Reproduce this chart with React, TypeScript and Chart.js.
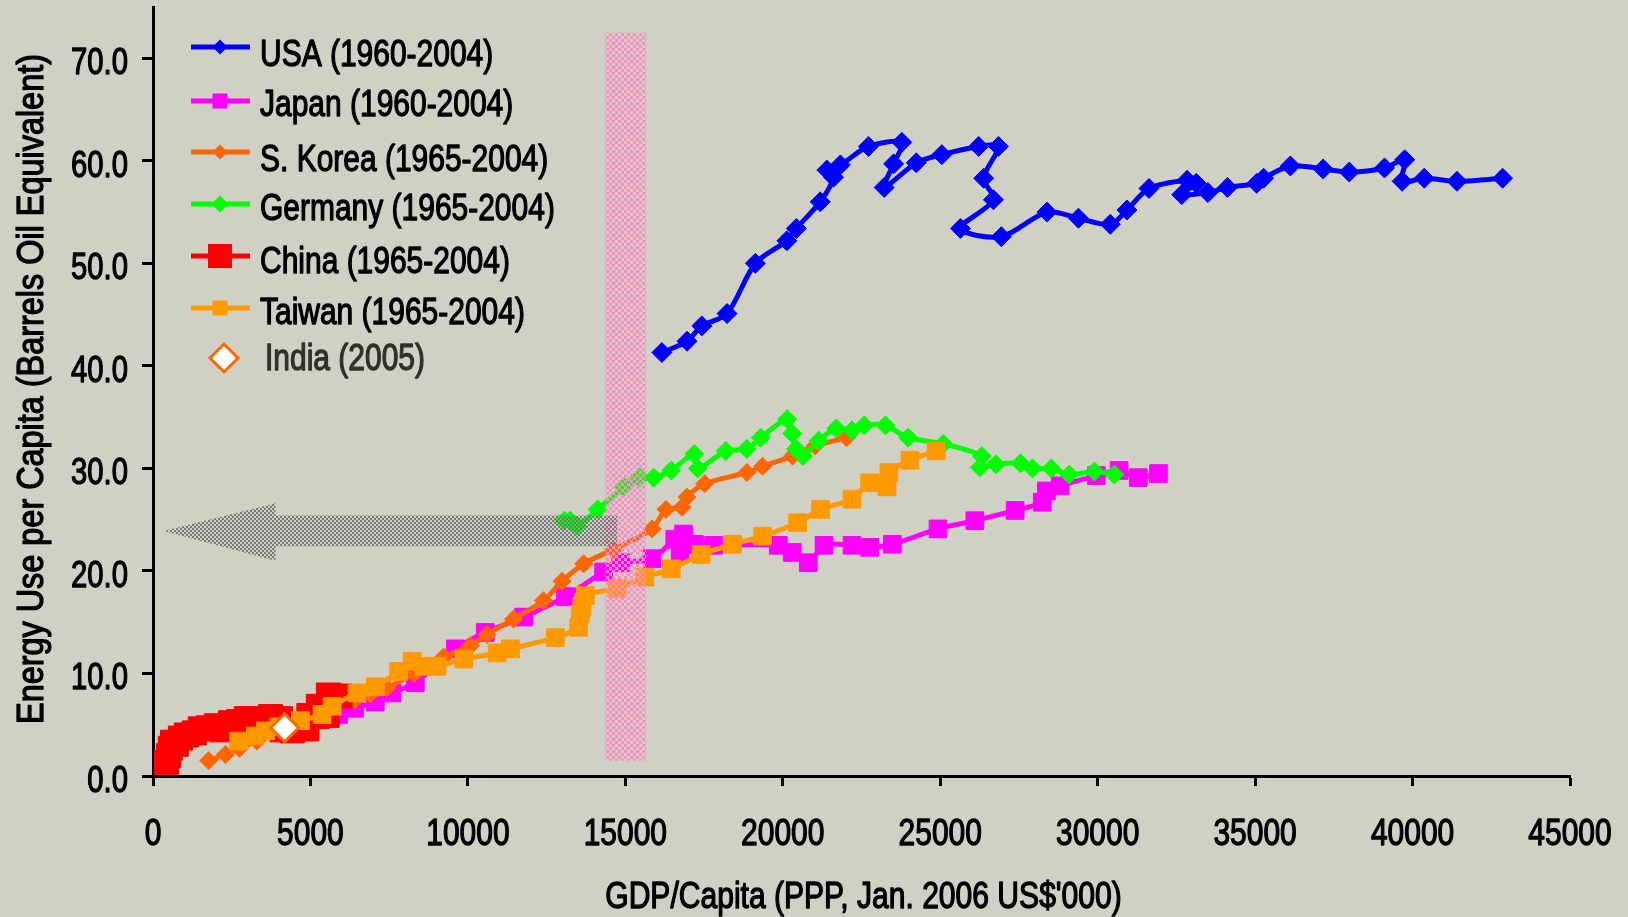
import React, { useEffect, useRef } from 'react';
import { Chart, registerables } from 'chart.js';

Chart.register(...registerables);

const FONT = "'Liberation Sans', Arial, sans-serif";
const BG = 'rgb(209,208,197)';

// ---- data (GDP/capita, energy use per capita) ----
const usaGdp = [16160, 16960, 17430, 18230, 19130, 20130, 20430, 21190, 21610, 21400, 21830, 22720, 23780, 23520, 23220, 24240, 25050, 26220, 26850, 26380, 26690, 25640, 26940, 28390, 29390, 30400, 30930, 31630, 32840, 33130, 32670, 33500, 34120, 35050, 35270, 36120, 37160, 37990, 39110, 39750, 39670, 40370, 41410, 42860];
const usaEnergy = [41.3, 42.4, 43.9, 45.1, 50.0, 52.2, 53.4, 56.0, 58.4, 59.1, 59.6, 61.4, 61.8, 59.7, 57.4, 59.8, 60.6, 61.4, 61.4, 58.3, 56.2, 53.4, 52.6, 55.0, 54.4, 53.8, 55.2, 57.3, 58.1, 57.8, 56.7, 56.9, 57.4, 57.8, 58.3, 59.5, 59.2, 58.9, 59.3, 60.1, 58.0, 58.3, 58.0, 58.3];

const japanGdp = [5900, 6400, 7060, 7590, 8330, 9600, 10550, 11770, 13090, 14310, 14850, 15850, 16570, 16850, 16740, 17190, 17800, 19860, 20300, 20810, 21310, 22200, 22760, 23480, 24930, 26100, 27380, 28240, 28370, 28810, 29960, 30680, 31290, 31930];
const japanEnergy = [6.0, 6.6, 7.2, 8.1, 9.1, 12.4, 14.0, 15.5, 17.5, 19.9, 20.8, 21.2, 23.1, 23.6, 21.8, 22.6, 22.5, 22.5, 21.8, 20.8, 22.5, 22.5, 22.3, 22.6, 24.1, 24.9, 25.9, 26.7, 27.8, 28.3, 29.3, 29.8, 29.1, 29.5];

const koreaGdp = [1770, 2300, 2750, 3300, 3900, 4500, 5100, 5700, 6400, 6900, 7430, 8300, 9230, 10080, 10610, 11450, 12400, 12990, 13680, 14620, 15850, 16290, 16800, 16960, 17520, 18860, 19360, 20310, 21030, 22030];
const koreaEnergy = [1.5, 2.1, 2.7, 3.4, 4.2, 5.0, 5.8, 6.6, 7.4, 8.0, 8.6, 10.0, 11.6, 12.7, 13.8, 15.3, 17.1, 19.0, 20.7, 22.1, 24.1, 26.0, 26.2, 27.2, 28.5, 29.6, 30.2, 31.2, 32.2, 33.0];

const germanyGdp = [13060, 13250, 13470, 14120, 14960, 15460, 15900, 16460, 17190, 17300, 18190, 18860, 19300, 20140, 20300, 20420, 20640, 21140, 21700, 22200, 22590, 23260, 23980, 25100, 26320, 26260, 26770, 27550, 27930, 28530, 29100, 29900, 30530];
const germanyEnergy = [24.9, 24.9, 24.4, 26.0, 28.2, 29.1, 29.1, 29.8, 31.4, 30.0, 31.7, 31.9, 33.0, 34.8, 33.4, 31.9, 31.2, 32.7, 33.9, 33.7, 34.2, 34.2, 33.0, 32.4, 31.2, 30.1, 30.4, 30.5, 30.0, 30.0, 29.4, 29.7, 29.4];

const chinaGdp = [425, 490, 550, 620, 740, 870, 1060, 1310, 1500, 1760, 2010, 2200, 2460, 2710, 2960, 3220, 3470, 3730, 4050, 4100, 4430, 4700, 4890, 4950, 5210, 5250, 5530, 5570, 5940];
const chinaEnergy = [1.3, 2.0, 2.7, 3.3, 3.1, 3.7, 4.0, 4.2, 4.6, 4.7, 4.9, 4.5, 5.2, 5.3, 5.6, 5.6, 5.6, 5.8, 5.6, 4.5, 4.4, 4.6, 4.6, 5.9, 5.8, 6.8, 5.9, 7.9, 7.8];

const taiwanGdp = [2720, 3250, 3570, 4000, 4680, 5370, 5690, 6480, 7060, 7800, 8230, 8600, 9020, 9870, 10930, 11350, 12780, 13520, 13570, 13620, 13730, 14740, 15620, 16460, 17410, 18410, 19360, 20470, 21200, 22200, 22760, 23310, 23370, 24040, 24870];
const taiwanEnergy = [3.4, 3.9, 4.4, 4.8, 5.4, 6.0, 6.8, 8.1, 8.7, 10.2, 11.2, 10.7, 10.7, 11.4, 12.0, 12.4, 13.5, 14.5, 15.8, 16.5, 17.6, 18.3, 19.4, 20.2, 21.6, 22.6, 23.4, 24.7, 26.0, 27.0, 28.6, 28.2, 29.6, 30.8, 31.7];

const indiaGdp = [4180];
const indiaEnergy = [4.7];

const seriesLabels = ['USA (1960-2004)', 'Japan (1960-2004)', 'S. Korea (1965-2004)', 'Germany (1965-2004)', 'China (1965-2004)', 'Taiwan (1965-2004)', 'India (2005)'];
const xTitle = "GDP/Capita (PPP, Jan. 2006 US$'000)";
const yTitle = 'Energy Use per Capita (Barrels Oil Equivalent)';

// annotations (data units)
const bandX = [14360, 15660];
const bandY = [1.5, 72.5];
const arrowTip = [340, 23.9];
const arrowHeadX = 3890;
const arrowHeadY = [26.6, 21.0];
const arrowShaftY = [25.4, 22.4];
const arrowEndX = 14740;

const xTicks = [0, 5000, 10000, 15000, 20000, 25000, 30000, 35000, 40000, 45000];
const yTicks = [0, 10, 20, 30, 40, 50, 60, 70];

const pts = (xs: number[], ys: number[]) => xs.map((x, i) => ({ x, y: ys[i] }));

function checker(color: string, cell: number) {
  const c = document.createElement('canvas');
  c.width = cell * 2;
  c.height = cell * 2;
  const g = c.getContext('2d')!;
  g.fillStyle = color;
  g.fillRect(0, 0, cell, cell);
  g.fillRect(cell, cell, cell, cell);
  return c;
}

// narrow text: regular face, horizontally compressed, slightly emboldened
function narrowText(ctx: any, text: string, x: number, y: number, opts: { size: number; sx: number; align: string; color: string; rot?: number }) {
  ctx.save();
  ctx.translate(x, y);
  if (opts.rot) ctx.rotate(opts.rot);
  ctx.scale(opts.sx, 1);
  ctx.font = `${opts.size}px ${FONT}`;
  ctx.textAlign = opts.align;
  ctx.textBaseline = 'alphabetic';
  ctx.fillStyle = opts.color;
  ctx.strokeStyle = opts.color;
  ctx.lineWidth = 1.3;
  ctx.lineJoin = 'round';
  ctx.fillText(text, 0, 0);
  ctx.strokeText(text, 0, 0);
  ctx.restore();
}

const overlayPlugin = {
  id: 'overlay',
  afterDatasetsDraw(chart: any) {
    const { ctx, scales } = chart;
    const x = scales.x;
    const y = scales.y;
    ctx.save();
    ctx.fillStyle = ctx.createPattern(checker('#FF8CC6', 3), 'repeat');
    const bx0 = x.getPixelForValue(bandX[0]);
    const bx1 = x.getPixelForValue(bandX[1]);
    const by0 = y.getPixelForValue(bandY[1]);
    const by1 = y.getPixelForValue(bandY[0]);
    ctx.fillRect(bx0, by0, bx1 - bx0, by1 - by0);
    ctx.fillStyle = ctx.createPattern(checker('#787878', 2), 'repeat');
    ctx.beginPath();
    ctx.moveTo(x.getPixelForValue(arrowTip[0]), y.getPixelForValue(arrowTip[1]));
    ctx.lineTo(x.getPixelForValue(arrowHeadX), y.getPixelForValue(arrowHeadY[0]));
    ctx.lineTo(x.getPixelForValue(arrowHeadX), y.getPixelForValue(arrowShaftY[0]));
    ctx.lineTo(x.getPixelForValue(arrowEndX), y.getPixelForValue(arrowShaftY[0]));
    ctx.lineTo(x.getPixelForValue(arrowEndX), y.getPixelForValue(arrowShaftY[1]));
    ctx.lineTo(x.getPixelForValue(arrowHeadX), y.getPixelForValue(arrowShaftY[1]));
    ctx.lineTo(x.getPixelForValue(arrowHeadX), y.getPixelForValue(arrowHeadY[1]));
    ctx.closePath();
    ctx.fill();
    ctx.restore();
  },
};

const axisTextPlugin = {
  id: 'axisText',
  afterDraw(chart: any) {
    const { ctx, scales, chartArea } = chart;
    const x = scales.x;
    const y = scales.y;
    xTicks.forEach((v) => {
      narrowText(ctx, String(v), x.getPixelForValue(v), x.top + 69, { size: 37, sx: 0.81, align: 'center', color: '#000' });
    });
    yTicks.forEach((v) => {
      narrowText(ctx, v.toFixed(1), y.right - 25, y.getPixelForValue(v) + 16, { size: 37, sx: 0.79, align: 'right', color: '#000' });
    });
    narrowText(ctx, xTitle, (chartArea.left + chartArea.right) / 2 + 2, 908, { size: 36, sx: 0.835, align: 'center', color: '#000' });
    narrowText(ctx, yTitle, 43, 389, { size: 36, sx: 0.9, align: 'center', color: '#000', rot: -Math.PI / 2 });
  },
};

const legendItems = [
  { color: '#0000FF', marker: 'diamond', size: 7.5, lineY: 47, textY: 53 },
  { color: '#FF00FF', marker: 'square', size: 15, lineY: 101, textY: 103 },
  { color: '#FF6600', marker: 'diamond', size: 7.5, lineY: 152, textY: 158 },
  { color: '#00FF00', marker: 'diamond', size: 8.5, lineY: 204, textY: 207 },
  { color: '#FF0000', marker: 'square', size: 24, lineY: 256, textY: 260 },
  { color: '#FF9900', marker: 'square', size: 15, lineY: 308, textY: 311 },
  { color: '#FF6600', marker: 'india', size: 14, lineY: 358, textY: 357 },
];

const legendPlugin = {
  id: 'customLegend',
  afterDraw(chart: any) {
    const { ctx } = chart;
    legendItems.forEach((it, i) => {
      ctx.save();
      const cx = 220;
      if (it.marker !== 'india') {
        ctx.strokeStyle = it.color;
        ctx.lineWidth = 5;
        ctx.beginPath();
        ctx.moveTo(191, it.lineY);
        ctx.lineTo(250, it.lineY);
        ctx.stroke();
        ctx.fillStyle = it.color;
        if (it.marker === 'diamond') {
          ctx.beginPath();
          ctx.moveTo(cx - it.size, it.lineY);
          ctx.lineTo(cx, it.lineY - it.size);
          ctx.lineTo(cx + it.size, it.lineY);
          ctx.lineTo(cx, it.lineY + it.size);
          ctx.closePath();
          ctx.fill();
        } else {
          ctx.fillRect(cx - it.size / 2, it.lineY - it.size / 2, it.size, it.size);
        }
        ctx.restore();
        narrowText(ctx, seriesLabels[i], 260, it.textY + 13, { size: 37, sx: 0.81, align: 'left', color: '#000' });
      } else {
        const ix = 224;
        ctx.beginPath();
        ctx.moveTo(ix - it.size, it.lineY);
        ctx.lineTo(ix, it.lineY - it.size);
        ctx.lineTo(ix + it.size, it.lineY);
        ctx.lineTo(ix, it.lineY + it.size);
        ctx.closePath();
        ctx.fillStyle = '#FFFFFF';
        ctx.fill();
        ctx.strokeStyle = it.color;
        ctx.lineWidth = 3;
        ctx.stroke();
        ctx.restore();
        narrowText(ctx, seriesLabels[i], 265, it.textY + 13, { size: 37, sx: 0.81, align: 'left', color: '#2E3328' });
      }
    });
  },
};

function line(label: string, data: any[], color: string, style: string, radius: number, order: number) {
  return {
    label,
    data,
    showLine: true,
    borderColor: color,
    backgroundColor: color,
    borderWidth: 5,
    tension: 0.3,
    pointStyle: style,
    pointRadius: radius,
    pointBorderWidth: 1,
    pointBorderColor: color,
    pointBackgroundColor: color,
    order,
  };
}

export default function App() {
  const ref = useRef<HTMLCanvasElement>(null);
  useEffect(() => {
    const chart = new Chart(ref.current!, {
      type: 'scatter',
      data: {
        datasets: [
          line(seriesLabels[0], pts(usaGdp, usaEnergy), '#0000FF', 'rectRot', 10, 7),
          line(seriesLabels[1], pts(japanGdp, japanEnergy), '#FF00FF', 'rect', 12.5, 6),
          line(seriesLabels[2], pts(koreaGdp, koreaEnergy), '#FF6600', 'rectRot', 9, 5),
          line(seriesLabels[3], pts(germanyGdp, germanyEnergy), '#00FF00', 'rectRot', 9.5, 4),
          line(seriesLabels[4], pts(chinaGdp, chinaEnergy), '#FF0000', 'rect', 17, 3),
          line(seriesLabels[5], pts(taiwanGdp, taiwanEnergy), '#FF9900', 'rect', 12.5, 2),
          {
            label: seriesLabels[6],
            data: pts(indiaGdp, indiaEnergy),
            showLine: false,
            pointStyle: 'rectRot',
            pointRadius: 14,
            pointBackgroundColor: '#FFFFFF',
            pointBorderColor: '#FF6600',
            pointBorderWidth: 3,
            order: 1,
          },
        ],
      },
      options: {
        animation: false,
        responsive: false,
        devicePixelRatio: 1,
        layout: { autoPadding: false, padding: { top: 7, right: 58, left: 0, bottom: 0 } },
        plugins: { legend: { display: false }, tooltip: { enabled: false } },
        scales: {
          x: {
            type: 'linear',
            min: 0,
            max: 45000,
            afterFit: (s: any) => { s.height = 141; s.paddingLeft = 0; s.paddingRight = 0; s.paddingTop = 0; s.paddingBottom = 0; },
            afterBuildTicks: (s: any) => { s.ticks = xTicks.map((v) => ({ value: v })); },
            ticks: { display: false },
            grid: { drawOnChartArea: false, drawTicks: true, tickLength: 10, tickWidth: 3, tickColor: '#000' },
            border: { display: true, color: '#000', width: 3 },
            title: { display: false },
          },
          y: {
            type: 'linear',
            min: 0,
            max: 75,
            afterFit: (s: any) => { s.width = 153; s.paddingLeft = 0; s.paddingRight = 0; s.paddingTop = 0; s.paddingBottom = 0; },
            afterBuildTicks: (s: any) => { s.ticks = yTicks.map((v) => ({ value: v })); },
            ticks: { display: false },
            grid: { drawOnChartArea: false, drawTicks: true, tickLength: 11, tickWidth: 3, tickColor: '#000' },
            border: { display: true, color: '#000', width: 3 },
            title: { display: false },
          },
        },
      },
      plugins: [overlayPlugin, axisTextPlugin, legendPlugin],
    } as any);
    return () => chart.destroy();
  }, []);
  return (
    <div style={{ position: 'fixed', left: 0, top: 0, width: 1628, height: 917, background: BG }}>
      <canvas ref={ref} width={1628} height={917} style={{ display: 'block', width: 1628, height: 917 }} />
    </div>
  );
}
